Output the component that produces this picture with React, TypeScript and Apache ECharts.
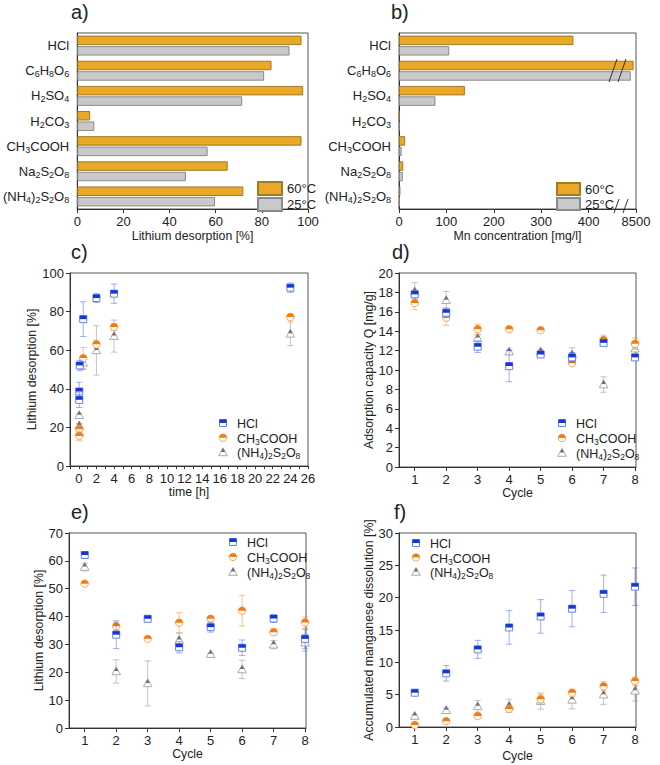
import React, { useEffect, useRef } from 'react';
import * as echarts from 'echarts';

// ---------- data ----------
const acids = ['HCl', 'C6H8O6', 'H2SO4', 'H2CO3', 'CH3COOH', 'Na2S2O8', '(NH4)2S2O8'];
const liDes60 = [97.2, 84.2, 97.9, 5.6, 97.2, 65.2, 72.0];
const liDes25 = [92.0, 81.0, 71.5, 7.4, 56.5, 47.1, 59.7];
const mn60 = [368, 8450, 139, 0.6, 13, 9, 3];
const mn25 = [106, 8390, 77, 0.5, 5.6, 8, 1];
const mnTickLabels = ['0', '100', '200', '300', '400', '8500'];

const tHCl = [0.05, 0.05, 0.1, 0.5, 2, 4, 24];
const cHCl = [38.6, 34.3, 52.1, 76.1, 87.0, 89.3, 92.4];
const cHClErr = [4.8, 4.0, 2.7, 9.0, 2.3, 5.0, 2.4];
const tAc = [0.05, 0.05, 0.5, 2, 4, 24];
const cAc = [19.1, 15.6, 55.9, 63.1, 72.0, 77.2];
const cAcErr = [1.5, 2.5, 5.5, 2.0, 1.8, 1.2];
const tPs = [0.05, 0.05, 0.05, 0.5, 2, 4, 24];
const cPs = [26.3, 21.0, 17.2, 53.5, 59.9, 67.3, 68.5];
const cPsErr = [1.0, 1.0, 1.5, 3.5, 12.8, 8.3, 6.1];

const cycles = [1, 2, 3, 4, 5, 6, 7, 8];
const dHCl = [17.8, 15.9, 12.4, 10.4, 11.6, 11.3, 12.8, 11.3];
const dHClErr = [0.4, 0.5, 0.6, 1.6, 0.2, 0.5, 0.3, 0.2];
const dAc = [16.9, 15.4, 14.2, 14.2, 14.1, 10.7, 13.1, 12.7];
const dAcErr = [0.7, 0.8, 0.5, 0.15, 0.15, 0.2, 0.5, 0.6];
const dPs = [18.1, 17.2, 13.3, 11.9, 11.9, 11.6, 8.5, 12.2];
const dPsErr = [0.9, 0.9, 0.3, 0.2, 0.2, 0.7, 0.8, 0.7];

const eHCl = [62.1, 33.5, 39.2, 29.0, 36.2, 28.8, 39.3, 32.0];
const eHClErr = [0.8, 5.0, 0.5, 2.0, 1.8, 2.8, 1.4, 3.4];
const eAc = [51.8, 36.5, 32.0, 37.8, 39.2, 42.1, 34.4, 37.9];
const eAcErr = [0.5, 1.5, 0.5, 3.6, 0.6, 5.5, 1.2, 2.0];
const ePs = [57.8, 20.3, 16.0, 31.6, 26.5, 21.0, 29.9, 30.6];
const ePsErr = [1.4, 4.2, 8.1, 2.5, 0.4, 3.3, 1.5, 3.0];

const fHCl = [5.3, 8.3, 12.0, 15.4, 17.1, 18.3, 20.6, 21.7];
const fHClErr = [0.2, 1.2, 1.4, 2.6, 2.6, 2.8, 2.9, 2.9];
const fAc = [0.3, 0.9, 1.7, 2.8, 4.3, 5.3, 6.3, 7.1];
const fAcErr = [0.2, 0.15, 0.4, 0.5, 0.7, 0.55, 0.7, 0.65];
const fPs = [1.7, 2.6, 3.2, 3.3, 4.0, 4.2, 5.0, 5.6];
const fPsErr = [0.2, 0.35, 0.9, 1.0, 1.25, 1.4, 1.5, 1.6];

const seriesNames = ['HCl', 'CH3COOH', '(NH4)2S2O8'];

// ---------- helpers ----------
const FONT = '"Liberation Sans", Arial, Helvetica, sans-serif';
const TXT = '#222';
const TITLE_SIZE = 12.3;

function chem(s: string) {
  return s
    .split(/(\d+)/)
    .filter((p) => p.length)
    .map((p) => (/^\d+$/.test(p) ? `{s|${p}}` : `{n|${p}}`))
    .join('');
}

// break transform for the Mn axis (values above the break are compressed)
function mnScale(v: number) {
  return v > 1000 ? 500 - (8500 - v) / 10 : v;
}

type Kind = 'square' | 'circle' | 'triangle';
const styles: Record<string, { kind: Kind; fill: string; stroke: string; err: string }> = {
  HCl: { kind: 'square', fill: '#1537d6', stroke: '#6680ea', err: 'rgba(70,100,225,0.5)' },
  CH3COOH: { kind: 'circle', fill: '#f27c0e', stroke: '#f6a45a', err: 'rgba(245,140,40,0.5)' },
  '(NH4)2S2O8': { kind: 'triangle', fill: '#6e6e6e', stroke: '#ababab', err: 'rgba(140,140,140,0.5)' },
};

function markerEls(kind: Kind, cx: number, cy: number, fill: string, stroke: string): any[] {
  if (kind === 'square') {
    return [
      { type: 'rect', shape: { x: cx - 3.5, y: cy - 3.5, width: 7, height: 7 }, style: { fill: '#fff', stroke, lineWidth: 1 } },
      { type: 'rect', shape: { x: cx - 3.5, y: cy - 3.5, width: 7, height: 3.5 }, style: { fill } },
    ];
  }
  if (kind === 'circle') {
    return [
      { type: 'circle', shape: { cx, cy, r: 3.7 }, style: { fill: '#fff', stroke, lineWidth: 1 } },
      { type: 'sector', shape: { cx, cy, r0: 0, r: 3.7, startAngle: Math.PI, endAngle: 2 * Math.PI, clockwise: true }, style: { fill } },
    ];
  }
  return [
    { type: 'polygon', shape: { points: [[cx, cy - 4.5], [cx - 4.3, cy + 3.3], [cx + 4.3, cy + 3.3]] }, style: { fill: '#fff', stroke, lineWidth: 1 } },
    { type: 'polygon', shape: { points: [[cx, cy - 4.5], [cx - 2.2, cy - 0.5], [cx + 2.2, cy - 0.5]] }, style: { fill } },
  ];
}

function errSeries(name: string, idx: number, xs: number[], ys: number[], es: number[]) {
  const st = styles[name];
  return {
    type: 'custom',
    name,
    coordinateSystem: 'cartesian2d',
    xAxisIndex: idx,
    yAxisIndex: idx,
    data: xs.map((x, i) => [x, ys[i], es[i]]),
    encode: { x: 0, y: 1 },
    z: 3,
    renderItem: (_p: any, api: any) => {
      const x = api.value(0);
      const y = api.value(1);
      const e = api.value(2);
      const c = api.coord([x, y]);
      const t = api.coord([x, y + e]);
      const b = api.coord([x, y - e]);
      const cap = 3.2;
      const ls = { stroke: st.err, lineWidth: 1 };
      return {
        type: 'group',
        children: [
          { type: 'line', shape: { x1: c[0], y1: t[1], x2: c[0], y2: b[1] }, style: ls },
          { type: 'line', shape: { x1: c[0] - cap, y1: t[1], x2: c[0] + cap, y2: t[1] }, style: ls },
          { type: 'line', shape: { x1: c[0] - cap, y1: b[1], x2: c[0] + cap, y2: b[1] }, style: ls },
          ...markerEls(st.kind, c[0], c[1], st.fill, st.stroke),
        ],
      };
    },
  };
}

const legendRich = {
  n: { fontSize: 12.5, fontFamily: FONT, color: TXT },
  s: { fontSize: 8.5, fontFamily: FONT, color: TXT, padding: [6, 0, 0, 0] },
};

function scatterLegend(mx: number, y0: number, dy: number): any[] {
  const out: any[] = [];
  seriesNames.forEach((nm, i) => {
    const st = styles[nm];
    const y = y0 + i * dy;
    out.push(...markerEls(st.kind, mx, y, st.fill, st.stroke));
    out.push({
      type: 'text',
      x: mx + 14,
      y: y + 1,
      style: { text: chem(nm), rich: legendRich, fill: TXT, verticalAlign: 'middle', align: 'left', fontFamily: FONT, fontSize: 12.5 },
    });
  });
  return out;
}

function panelLabel(t: string, x: number, y: number) {
  return { type: 'text', x, y, style: { text: t, fontSize: 20, fontFamily: FONT, fill: TXT } };
}

const catRich = {
  n: { fontSize: 13, fontFamily: FONT, color: TXT },
  s: { fontSize: 9, fontFamily: FONT, color: TXT, padding: [7, 0, 0, 0] },
};

function valAxis(grid: number, o: any) {
  return {
    gridIndex: grid,
    type: 'value',
    nameLocation: 'middle',
    nameTextStyle: { color: TXT, fontSize: TITLE_SIZE, fontFamily: FONT },
    axisLine: { show: true, onZero: false, lineStyle: { color: '#333', width: 1 } },
    axisTick: { show: true, length: 4, lineStyle: { color: '#333' } },
    axisLabel: { color: TXT, fontSize: 13, fontFamily: FONT, margin: 6 },
    splitLine: { show: false },
    ...o,
  };
}

function catAxis(grid: number) {
  return {
    gridIndex: grid,
    type: 'category',
    inverse: true,
    data: acids,
    axisLine: { show: true, onZero: false, lineStyle: { color: '#333' } },
    axisTick: { show: false },
    axisLabel: { formatter: (v: string) => chem(v), rich: catRich, margin: 8 },
  };
}

const cycleAxis = (grid: number, gap: number) =>
  valAxis(grid, {
    min: 0.5,
    max: 8.03,
    name: 'Cycle',
    nameGap: gap,
    axisLabel: { color: TXT, fontSize: 13, fontFamily: FONT, margin: 6, customValues: cycles },
    axisTick: { show: true, length: 4, lineStyle: { color: '#333' }, customValues: cycles },
  });

const gridBox = { show: true, borderColor: '#555', borderWidth: 1, backgroundColor: 'transparent' };

export default function App() {
  const ref = useRef<HTMLDivElement>(null);
  useEffect(() => {
    document.body.style.margin = '0';
    const chart = echarts.init(ref.current!, undefined, { renderer: 'svg' });
    const option: any = {
      animation: false,
      backgroundColor: '#fff',
      textStyle: { fontFamily: FONT },
      grid: [
        { left: 70, top: 33, width: 238, height: 176, ...gridBox },
        { left: 399, top: 33, width: 237, height: 176, ...gridBox },
        { left: 70, top: 273, width: 238, height: 193, ...gridBox },
        { left: 399, top: 273, width: 237, height: 194, ...gridBox },
        { left: 69, top: 533, width: 237, height: 195, ...gridBox },
        { left: 399, top: 533, width: 237, height: 194, ...gridBox },
      ],
      xAxis: [
        valAxis(0, { min: 0, max: 100, interval: 20, name: 'Lithium desorption [%]', nameGap: 21 }),
        valAxis(1, {
          min: 0,
          max: 500,
          interval: 100,
          name: 'Mn concentration [mg/l]',
          nameGap: 21,
          axisLabel: { color: TXT, fontSize: 13, fontFamily: FONT, margin: 6, formatter: (v: number) => mnTickLabels[Math.round(v / 100)] },
        }),
        valAxis(2, {
          min: -1,
          max: 26,
          interval: 1,
          name: 'time [h]',
          nameGap: 19,
          axisTick: { show: true, length: 3, lineStyle: { color: '#333' } },
          axisLabel: { color: TXT, fontSize: 13, fontFamily: FONT, margin: 6, formatter: (v: number) => (v >= 0 && v % 2 === 0 ? String(v) : '') },
        }),
        cycleAxis(3, 16.5),
        cycleAxis(4, 17),
        cycleAxis(5, 23),
      ],
      yAxis: [
        catAxis(0),
        catAxis(1),
        valAxis(2, { min: 0, max: 100, interval: 20, name: 'Lithium desorption [%]', nameGap: 28 }),
        valAxis(3, { min: 0, max: 20, interval: 2, name: 'Adsorption capacity Q [mg/g]', nameGap: 22 }),
        valAxis(4, { min: 0, max: 70, interval: 10, name: 'Lithium desorption [%]', nameGap: 19 }),
        valAxis(5, { min: 0, max: 30, interval: 5, name: 'Accumulated manganese dissolution [%]', nameGap: 20 }),
      ],
      legend: [
        {
          data: ['60°C', '25°C'],
          left: 257,
          top: 181,
          orient: 'vertical',
          itemWidth: 24,
          itemHeight: 13,
          itemGap: 1,
          padding: 0,
          icon: 'rect',
          selectedMode: false,
          textStyle: { fontSize: 13, color: TXT, fontFamily: FONT, lineHeight: 13 },
        },
        {
          data: ['60°C', '25°C'],
          left: 556,
          top: 182,
          orient: 'vertical',
          itemWidth: 23,
          itemHeight: 12,
          itemGap: 1,
          padding: 0,
          icon: 'rect',
          selectedMode: false,
          textStyle: { fontSize: 13, color: TXT, fontFamily: FONT, lineHeight: 12 },
        },
      ],
      series: [
        { type: 'bar', name: '60°C', xAxisIndex: 0, yAxisIndex: 0, data: liDes60, barWidth: 9.5, barGap: '10%', itemStyle: { color: '#E9A827', borderColor: '#a07a25', borderWidth: 1 } },
        { type: 'bar', name: '25°C', xAxisIndex: 0, yAxisIndex: 0, data: liDes25, barWidth: 9.5, barGap: '10%', itemStyle: { color: '#C9C9C9', borderColor: '#8a8a8a', borderWidth: 1 } },
        { type: 'bar', name: '60°C', xAxisIndex: 1, yAxisIndex: 1, data: mn60.map(mnScale), barWidth: 9.5, barGap: '10%', itemStyle: { color: '#E9A827', borderColor: '#a07a25', borderWidth: 1 } },
        { type: 'bar', name: '25°C', xAxisIndex: 1, yAxisIndex: 1, data: mn25.map(mnScale), barWidth: 9.5, barGap: '10%', itemStyle: { color: '#C9C9C9', borderColor: '#8a8a8a', borderWidth: 1 } },
        errSeries('(NH4)2S2O8', 2, tPs, cPs, cPsErr),
        errSeries('CH3COOH', 2, tAc, cAc, cAcErr),
        errSeries('HCl', 2, tHCl, cHCl, cHClErr),
        errSeries('(NH4)2S2O8', 3, cycles, dPs, dPsErr),
        errSeries('CH3COOH', 3, cycles, dAc, dAcErr),
        errSeries('HCl', 3, cycles, dHCl, dHClErr),
        errSeries('(NH4)2S2O8', 4, cycles, ePs, ePsErr),
        errSeries('CH3COOH', 4, cycles, eAc, eAcErr),
        errSeries('HCl', 4, cycles, eHCl, eHClErr),
        errSeries('(NH4)2S2O8', 5, cycles, fPs, fPsErr),
        errSeries('CH3COOH', 5, cycles, fAc, fAcErr),
        errSeries('HCl', 5, cycles, fHCl, fHClErr),
      ],
      graphic: [
        panelLabel('a)', 71, 2),
        panelLabel('b)', 391, 2),
        panelLabel('c)', 71, 242),
        panelLabel('d)', 392, 242),
        panelLabel('e)', 71, 502),
        panelLabel('f)', 394, 502),
        // axis break marks (panel b)
        { type: 'line', shape: { x1: 609, y1: 82, x2: 617, y2: 59 }, style: { stroke: '#333', lineWidth: 1 }, z: 10 },
        { type: 'line', shape: { x1: 618, y1: 82, x2: 626, y2: 59 }, style: { stroke: '#333', lineWidth: 1 }, z: 10 },
        { type: 'line', shape: { x1: 614, y1: 213, x2: 619, y2: 199 }, style: { stroke: '#333', lineWidth: 1 }, z: 10 },
        { type: 'line', shape: { x1: 623, y1: 213, x2: 628, y2: 199 }, style: { stroke: '#333', lineWidth: 1 }, z: 10 },
        ...scatterLegend(223, 423, 14.7),
        ...scatterLegend(562, 423, 15),
        ...scatterLegend(233, 542, 15),
        ...scatterLegend(416, 543, 14.5),
      ],
    };
    chart.setOption(option);
    return () => chart.dispose();
  }, []);
  return <div ref={ref} style={{ width: 660, height: 765 }} />;
}
